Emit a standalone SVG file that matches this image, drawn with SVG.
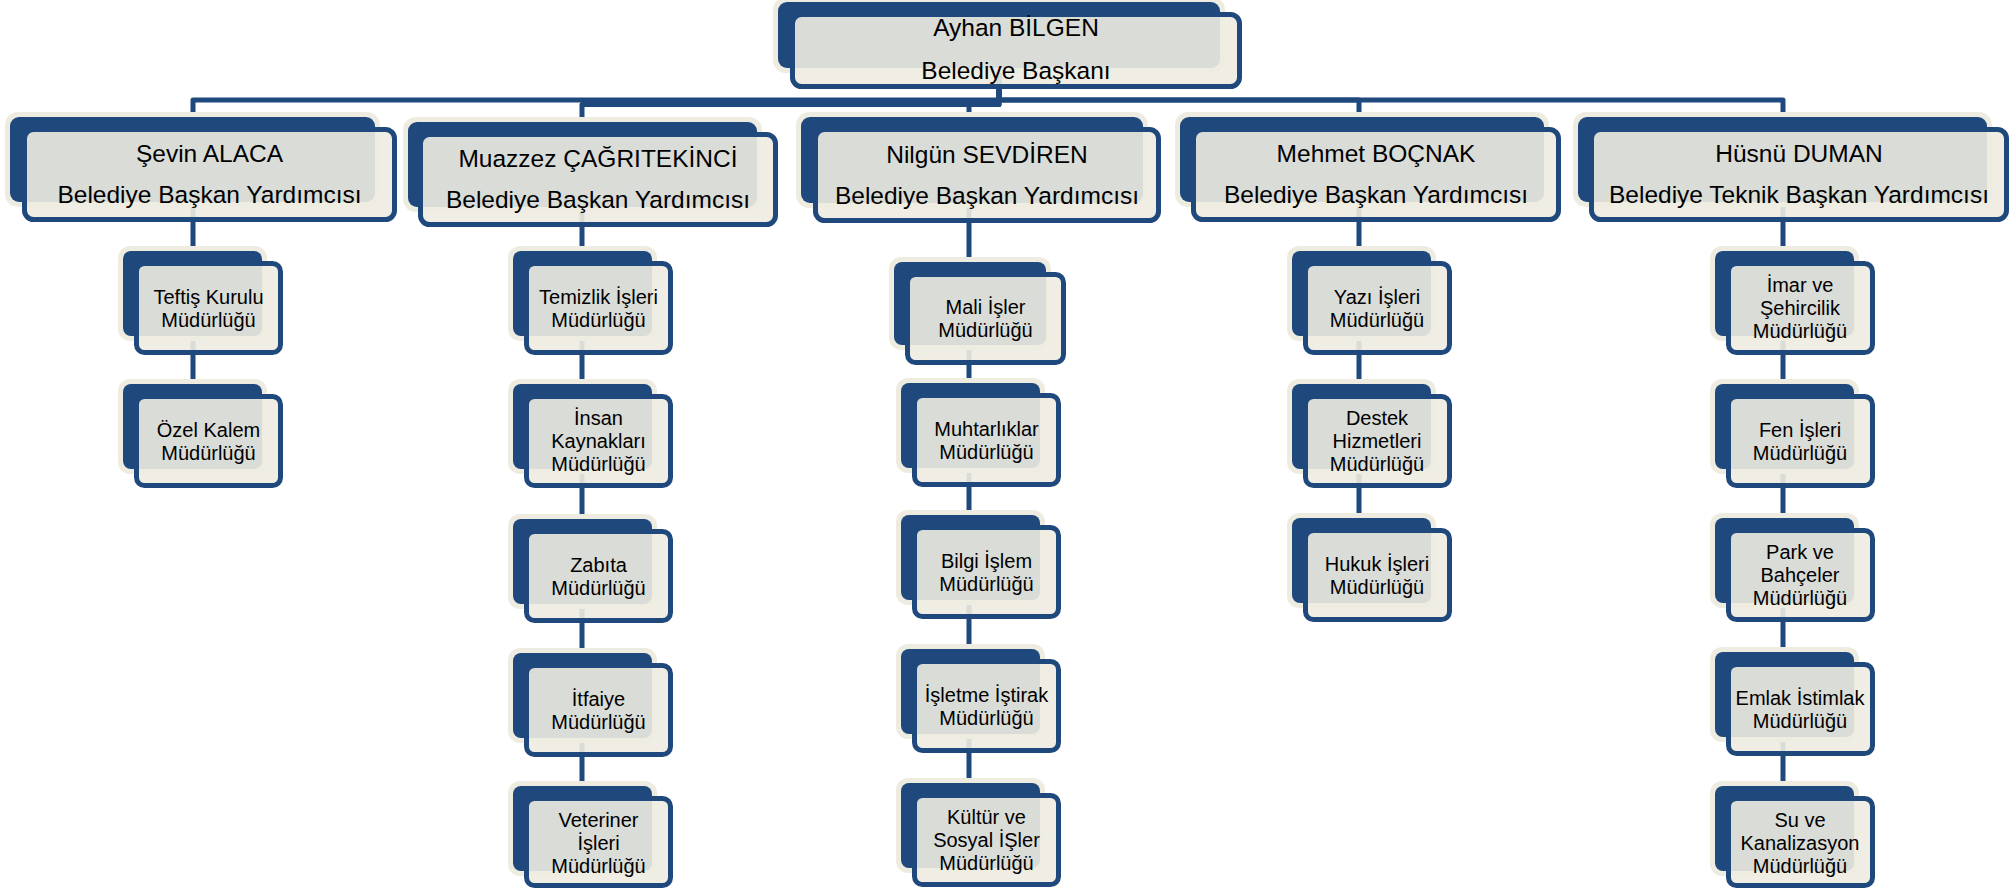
<svg xmlns="http://www.w3.org/2000/svg" width="2011" height="891" viewBox="0 0 2011 891">
<style>
.halo{fill:#eeece1}
.back{fill:#1f497d}
.front{fill:#eeece1;fill-opacity:0.9;stroke:#1f497d;stroke-width:5}
.conn{fill:none;stroke:#1f497d;stroke-width:5;stroke-linejoin:round}
text{font-family:"Liberation Sans",Arial,sans-serif;fill:#000;text-anchor:middle}
.big{font-size:24.5px}
.small{font-size:20px}
</style>
<rect width="2011" height="891" fill="#ffffff"/>
<g id="connectors">
<path class="conn" d="M999,68 V100 H193 V117"/>
<path class="conn" d="M999,68 V104.5 H582 V122"/>
<path class="conn" d="M999,68 V104.5 H969 V117"/>
<path class="conn" d="M999,68 V100 H1359 V117"/>
<path class="conn" d="M999,68 V100 H1783 V117"/>
<path class="conn" d="M193,202 V251 M193,336 V384"/>
<path class="conn" d="M582,207 V251 M582,336 V384 M582,469 V519 M582,604 V653 M582,738 V786"/>
<path class="conn" d="M969,203 V262 M969,345 V383 M969,468 V515 M969,600 V649 M969,734 V783"/>
<path class="conn" d="M1359,202 V251 M1359,336 V384 M1359,469 V518"/>
<path class="conn" d="M1783,202 V251 M1783,336 V384 M1783,469 V518 M1783,603 V652 M1783,737 V786"/>
</g>
<g id="n-ayhan">
<rect class="halo" x="773" y="-3" width="452" height="76" rx="13"/>
<rect class="back" x="778" y="2" width="442" height="66" rx="9"/>
<rect class="front" x="792.5" y="14.5" width="447" height="72" rx="9"/>
<text class="big" x="1016" y="36">Ayhan BİLGEN</text>
<text class="big" x="1016" y="79">Belediye Başkanı</text>
</g>
<g id="n-sevin">
<rect class="halo" x="5" y="112" width="375" height="95" rx="13"/>
<rect class="back" x="10" y="117" width="365" height="85" rx="9"/>
<rect class="front" x="24.5" y="129.5" width="370" height="90" rx="9"/>
<text class="big" x="209.5" y="162">Şevin ALACA</text>
<text class="big" x="209.5" y="203">Belediye Başkan Yardımcısı</text>
</g>
<g id="n-muazzez">
<rect class="halo" x="403" y="117" width="359" height="95" rx="13"/>
<rect class="back" x="408" y="122" width="349" height="85" rx="9"/>
<rect class="front" x="420.5" y="134.5" width="355" height="90" rx="9"/>
<text class="big" x="598" y="167">Muazzez ÇAĞRITEKİNCİ</text>
<text class="big" x="598" y="208">Belediye Başkan Yardımcısı</text>
</g>
<g id="n-nilgun">
<rect class="halo" x="796" y="112" width="352" height="96" rx="13"/>
<rect class="back" x="801" y="117" width="342" height="86" rx="9"/>
<rect class="front" x="815.5" y="129.5" width="343" height="91" rx="9"/>
<text class="big" x="987" y="162.5">Nilgün SEVDİREN</text>
<text class="big" x="987" y="203.5">Belediye Başkan Yardımcısı</text>
</g>
<g id="n-mehmet">
<rect class="halo" x="1175" y="112" width="374" height="95" rx="13"/>
<rect class="back" x="1180" y="117" width="364" height="85" rx="9"/>
<rect class="front" x="1193.5" y="129.5" width="365" height="90" rx="9"/>
<text class="big" x="1376" y="162">Mehmet BOÇNAK</text>
<text class="big" x="1376" y="203">Belediye Başkan Yardımcısı</text>
</g>
<g id="n-husnu">
<rect class="halo" x="1573" y="112" width="419" height="95" rx="13"/>
<rect class="back" x="1578" y="117" width="409" height="85" rx="9"/>
<rect class="front" x="1591.5" y="129.5" width="415" height="90" rx="9"/>
<text class="big" x="1799" y="162">Hüsnü DUMAN</text>
<text class="big" x="1799" y="203">Belediye Teknik Başkan Yardımcısı</text>
</g>
<g id="n-teftis">
<rect class="halo" x="118" y="246" width="149" height="95" rx="12"/>
<rect class="back" x="123" y="251" width="139" height="85" rx="8"/>
<rect class="front" x="136.5" y="263.5" width="144" height="89" rx="8"/>
<text class="small" x="208.5" y="303.5">Teftiş Kurulu</text>
<text class="small" x="208.5" y="326.5">Müdürlüğü</text>
</g>
<g id="n-ozel">
<rect class="halo" x="118" y="379" width="149" height="95" rx="12"/>
<rect class="back" x="123" y="384" width="139" height="85" rx="8"/>
<rect class="front" x="136.5" y="396.5" width="144" height="89" rx="8"/>
<text class="small" x="208.5" y="436.5">Özel Kalem</text>
<text class="small" x="208.5" y="459.5">Müdürlüğü</text>
</g>
<g id="n-temizlik">
<rect class="halo" x="508" y="246" width="149" height="95" rx="12"/>
<rect class="back" x="513" y="251" width="139" height="85" rx="8"/>
<rect class="front" x="526.5" y="263.5" width="144" height="89" rx="8"/>
<text class="small" x="598.5" y="303.5">Temizlik İşleri</text>
<text class="small" x="598.5" y="326.5">Müdürlüğü</text>
</g>
<g id="n-insan">
<rect class="halo" x="508" y="379" width="149" height="95" rx="12"/>
<rect class="back" x="513" y="384" width="139" height="85" rx="8"/>
<rect class="front" x="526.5" y="396.5" width="144" height="89" rx="8"/>
<text class="small" x="598.5" y="425">İnsan</text>
<text class="small" x="598.5" y="448">Kaynakları</text>
<text class="small" x="598.5" y="471">Müdürlüğü</text>
</g>
<g id="n-zabita">
<rect class="halo" x="508" y="514" width="149" height="95" rx="12"/>
<rect class="back" x="513" y="519" width="139" height="85" rx="8"/>
<rect class="front" x="526.5" y="531.5" width="144" height="89" rx="8"/>
<text class="small" x="598.5" y="571.5">Zabıta</text>
<text class="small" x="598.5" y="594.5">Müdürlüğü</text>
</g>
<g id="n-itfaiye">
<rect class="halo" x="508" y="648" width="149" height="95" rx="12"/>
<rect class="back" x="513" y="653" width="139" height="85" rx="8"/>
<rect class="front" x="526.5" y="665.5" width="144" height="89" rx="8"/>
<text class="small" x="598.5" y="705.5">İtfaiye</text>
<text class="small" x="598.5" y="728.5">Müdürlüğü</text>
</g>
<g id="n-veteriner">
<rect class="halo" x="508" y="781" width="149" height="95" rx="12"/>
<rect class="back" x="513" y="786" width="139" height="85" rx="8"/>
<rect class="front" x="526.5" y="798.5" width="144" height="87" rx="8"/>
<text class="small" x="598.5" y="827">Veteriner</text>
<text class="small" x="598.5" y="850">İşleri</text>
<text class="small" x="598.5" y="873">Müdürlüğü</text>
</g>
<g id="n-mali">
<rect class="halo" x="889" y="257" width="162" height="93" rx="12"/>
<rect class="back" x="894" y="262" width="152" height="83" rx="8"/>
<rect class="front" x="907.5" y="274.5" width="156" height="88" rx="8"/>
<text class="small" x="985.5" y="314">Mali İşler</text>
<text class="small" x="985.5" y="337">Müdürlüğü</text>
</g>
<g id="n-muhtarliklar">
<rect class="halo" x="896" y="378" width="149" height="95" rx="12"/>
<rect class="back" x="901" y="383" width="139" height="85" rx="8"/>
<rect class="front" x="914.5" y="395.5" width="144" height="89" rx="8"/>
<text class="small" x="986.5" y="435.5">Muhtarlıklar</text>
<text class="small" x="986.5" y="458.5">Müdürlüğü</text>
</g>
<g id="n-bilgi">
<rect class="halo" x="896" y="510" width="149" height="95" rx="12"/>
<rect class="back" x="901" y="515" width="139" height="85" rx="8"/>
<rect class="front" x="914.5" y="527.5" width="144" height="89" rx="8"/>
<text class="small" x="986.5" y="567.5">Bilgi İşlem</text>
<text class="small" x="986.5" y="590.5">Müdürlüğü</text>
</g>
<g id="n-isletme">
<rect class="halo" x="896" y="644" width="149" height="95" rx="12"/>
<rect class="back" x="901" y="649" width="139" height="85" rx="8"/>
<rect class="front" x="914.5" y="661.5" width="144" height="89" rx="8"/>
<text class="small" x="986.5" y="701.5">İşletme İştirak</text>
<text class="small" x="986.5" y="724.5">Müdürlüğü</text>
</g>
<g id="n-kultur">
<rect class="halo" x="896" y="778" width="149" height="95" rx="12"/>
<rect class="back" x="901" y="783" width="139" height="85" rx="8"/>
<rect class="front" x="914.5" y="795.5" width="144" height="89" rx="8"/>
<text class="small" x="986.5" y="824">Kültür ve</text>
<text class="small" x="986.5" y="847">Sosyal İŞler</text>
<text class="small" x="986.5" y="870">Müdürlüğü</text>
</g>
<g id="n-yazi">
<rect class="halo" x="1287" y="246" width="149" height="95" rx="12"/>
<rect class="back" x="1292" y="251" width="139" height="85" rx="8"/>
<rect class="front" x="1305.5" y="263.5" width="144" height="89" rx="8"/>
<text class="small" x="1377" y="303.5">Yazı İşleri</text>
<text class="small" x="1377" y="326.5">Müdürlüğü</text>
</g>
<g id="n-destek">
<rect class="halo" x="1287" y="379" width="149" height="95" rx="12"/>
<rect class="back" x="1292" y="384" width="139" height="85" rx="8"/>
<rect class="front" x="1305.5" y="396.5" width="144" height="89" rx="8"/>
<text class="small" x="1377" y="425">Destek</text>
<text class="small" x="1377" y="448">Hizmetleri</text>
<text class="small" x="1377" y="471">Müdürlüğü</text>
</g>
<g id="n-hukuk">
<rect class="halo" x="1287" y="513" width="149" height="95" rx="12"/>
<rect class="back" x="1292" y="518" width="139" height="85" rx="8"/>
<rect class="front" x="1305.5" y="530.5" width="144" height="89" rx="8"/>
<text class="small" x="1377" y="570.5">Hukuk İşleri</text>
<text class="small" x="1377" y="593.5">Müdürlüğü</text>
</g>
<g id="n-imar">
<rect class="halo" x="1710" y="246" width="149" height="95" rx="12"/>
<rect class="back" x="1715" y="251" width="139" height="85" rx="8"/>
<rect class="front" x="1728.5" y="263.5" width="144" height="89" rx="8"/>
<text class="small" x="1800" y="292">İmar ve</text>
<text class="small" x="1800" y="315">Şehircilik</text>
<text class="small" x="1800" y="338">Müdürlüğü</text>
</g>
<g id="n-fen">
<rect class="halo" x="1710" y="379" width="149" height="95" rx="12"/>
<rect class="back" x="1715" y="384" width="139" height="85" rx="8"/>
<rect class="front" x="1728.5" y="396.5" width="144" height="89" rx="8"/>
<text class="small" x="1800" y="436.5">Fen İşleri</text>
<text class="small" x="1800" y="459.5">Müdürlüğü</text>
</g>
<g id="n-park">
<rect class="halo" x="1710" y="513" width="149" height="95" rx="12"/>
<rect class="back" x="1715" y="518" width="139" height="85" rx="8"/>
<rect class="front" x="1728.5" y="530.5" width="144" height="89" rx="8"/>
<text class="small" x="1800" y="559">Park ve</text>
<text class="small" x="1800" y="582">Bahçeler</text>
<text class="small" x="1800" y="605">Müdürlüğü</text>
</g>
<g id="n-emlak">
<rect class="halo" x="1710" y="647" width="149" height="95" rx="12"/>
<rect class="back" x="1715" y="652" width="139" height="85" rx="8"/>
<rect class="front" x="1728.5" y="664.5" width="144" height="89" rx="8"/>
<text class="small" x="1800" y="704.5">Emlak İstimlak</text>
<text class="small" x="1800" y="727.5">Müdürlüğü</text>
</g>
<g id="n-su">
<rect class="halo" x="1710" y="781" width="149" height="95" rx="12"/>
<rect class="back" x="1715" y="786" width="139" height="85" rx="8"/>
<rect class="front" x="1728.5" y="798.5" width="144" height="87" rx="8"/>
<text class="small" x="1800" y="827">Su ve</text>
<text class="small" x="1800" y="850">Kanalizasyon</text>
<text class="small" x="1800" y="873">Müdürlüğü</text>
</g>
</svg>
